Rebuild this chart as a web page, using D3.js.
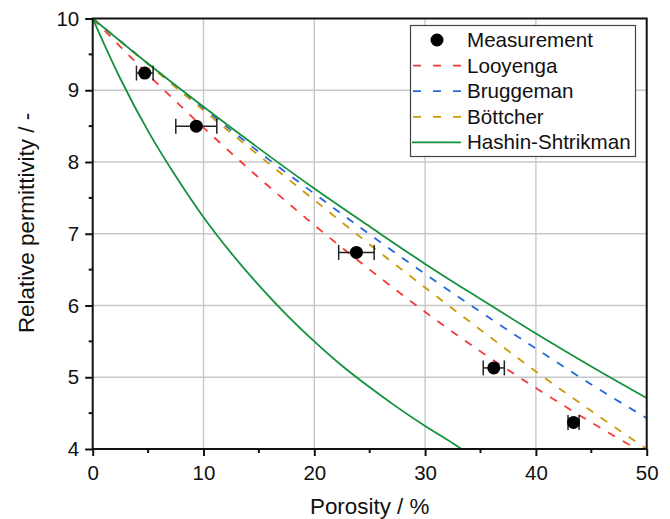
<!DOCTYPE html>
<html>
<head>
<meta charset="utf-8">
<script src="https://cdn.jsdelivr.net/npm/d3@7"></script>
<style>
  body { margin: 0; background: #fff; }
  text { font-family: "Liberation Sans", Arial, sans-serif; fill: #111; }
</style>
</head>
<body>
<div id="chart"></div>
<script>
// porosity grid (%) for the model curves
var porosity = [0, 5, 10, 15, 20, 25, 30, 35, 40, 45, 50]
var looyenga = [10, 9.22, 8.48, 7.78, 7.12, 6.50, 5.91, 5.36, 4.85, 4.37, 3.92]
var bruggeman = [10, 9.37, 8.75, 8.14, 7.56, 6.99, 6.44, 5.91, 5.40, 4.90, 4.43]
var boettcher = [10, 9.36, 8.72, 8.09, 7.47, 6.85, 6.25, 5.66, 5.08, 4.53, 4.00]
var hsUpper = [10, 9.37, 8.77, 8.19, 7.63, 7.10, 6.58, 6.09, 5.61, 5.15, 4.71]
// lower bound bends more, so it is read at finer steps
var hsLowerP = [0, 2.5, 5, 7.5, 10, 12.5, 15, 17.5, 20, 22.5, 25, 27.5, 30, 32.5, 33.3]
var hsLower = [10, 9.16, 8.43, 7.80, 7.23, 6.73, 6.28, 5.87, 5.50, 5.16, 4.86, 4.58, 4.32, 4.08, 4.0]

// measurements
var measP = [4.7, 9.35, 23.8, 36.2, 43.4]
var measE = [9.24, 8.50, 6.74, 5.13, 4.37]
var measErr = [0.75, 1.85, 1.6, 0.95, 0.5]

var xTicks = [0, 10, 20, 30, 40, 50]
var yTicks = [4, 5, 6, 7, 8, 9, 10]

var W = 670, H = 519
var pLeft = 92.7, pRight = 646.7, pTop = 18.5, pBottom = 449

var svg = d3.select('#chart').append('svg')
    .attr('width', W)
    .attr('height', H)

var x = d3.scaleLinear().domain([0, 50]).range([pLeft, pRight])
var y = d3.scaleLinear().domain([4, 10]).range([pBottom, pTop])

svg.append('defs').append('clipPath').attr('id', 'clip')
    .append('rect')
    .attr('x', pLeft).attr('y', pTop)
    .attr('width', pRight - pLeft).attr('height', pBottom - pTop)

// grid
var grid = svg.append('g')
grid.selectAll('.gx').data(xTicks.slice(1, -1)).enter().append('line')
    .attr('x1', d => x(d)).attr('x2', d => x(d))
    .attr('y1', pTop).attr('y2', pBottom)
    .attr('stroke', '#c8c8c8').attr('stroke-width', 1.4)
grid.selectAll('.gy').data(yTicks.slice(1, -1)).enter().append('line')
    .attr('y1', d => y(d)).attr('y2', d => y(d))
    .attr('x1', pLeft).attr('x2', pRight)
    .attr('stroke', '#c8c8c8').attr('stroke-width', 1.4)

var models = [
    { name: 'Looyenga', px: porosity, vals: looyenga, color: '#f8393a', dash: '8,9' },
    { name: 'Bruggeman', px: porosity, vals: bruggeman, color: '#2468dd', dash: '8,9' },
    { name: 'Böttcher', px: porosity, vals: boettcher, color: '#cc9905', dash: '8,9' },
    { name: 'Hashin-Shtrikman', px: porosity, vals: hsUpper, color: '#14913d', dash: null },
    { name: null, px: hsLowerP, vals: hsLower, color: '#14913d', dash: null }
]

var line = d3.line()
    .x(d => x(d[0]))
    .y(d => y(d[1]))
    .curve(d3.curveMonotoneX)

var curves = svg.append('g').attr('clip-path', 'url(#clip)')
models.forEach(function (m) {
    curves.append('path')
        .datum(d3.zip(m.px, m.vals))
        .attr('d', line)
        .attr('fill', 'none')
        .attr('stroke', m.color)
        .attr('stroke-width', 1.8)
        .attr('stroke-dasharray', m.dash)
})

// axes
var xAxis = d3.axisBottom(x).tickValues(xTicks).tickFormat(d3.format('d')).tickSize(7).tickPadding(9)
var yAxis = d3.axisLeft(y).tickValues(yTicks).tickFormat(d3.format('d')).tickSize(7.5).tickPadding(6)

var gx = svg.append('g').attr('transform', 'translate(0,' + pBottom + ')').call(xAxis)
var gy = svg.append('g').attr('transform', 'translate(' + pLeft + ',0)').call(yAxis)
;[gx, gy].forEach(function (g) {
    g.select('.domain').remove()
    g.selectAll('line').attr('stroke', '#111').attr('stroke-width', 2)
    g.selectAll('text').attr('font-size', 20.5).style('fill', '#111')
        .style('font-family', '"Liberation Sans", Arial, sans-serif')
})

// minor ticks
var minorX = d3.range(5, 50, 10)
var minorY = d3.range(4.5, 10, 1)
svg.append('g').selectAll('line').data(minorX).enter().append('line')
    .attr('x1', d => x(d)).attr('x2', d => x(d))
    .attr('y1', pBottom).attr('y2', pBottom + 4)
    .attr('stroke', '#111').attr('stroke-width', 2)
svg.append('g').selectAll('line').data(minorY).enter().append('line')
    .attr('y1', d => y(d)).attr('y2', d => y(d))
    .attr('x1', pLeft).attr('x2', pLeft - 4)
    .attr('stroke', '#111').attr('stroke-width', 2)

// frame
svg.append('rect')
    .attr('x', pLeft).attr('y', pTop)
    .attr('width', pRight - pLeft).attr('height', pBottom - pTop)
    .attr('fill', 'none').attr('stroke', '#111').attr('stroke-width', 2)

// measurements with error bars
var meas = d3.zip(measP, measE, measErr)
var mg = svg.append('g')
mg.selectAll('.eb').data(meas).enter().append('line')
    .attr('x1', d => x(d[0] - d[2])).attr('x2', d => x(d[0] + d[2]))
    .attr('y1', d => y(d[1])).attr('y2', d => y(d[1]))
    .attr('stroke', '#222').attr('stroke-width', 1.5)
mg.selectAll('.capl').data(meas).enter().append('line')
    .attr('x1', d => x(d[0] - d[2])).attr('x2', d => x(d[0] - d[2]))
    .attr('y1', d => y(d[1]) - 7.5).attr('y2', d => y(d[1]) + 7.5)
    .attr('stroke', '#222').attr('stroke-width', 1.5)
mg.selectAll('.capr').data(meas).enter().append('line')
    .attr('x1', d => x(d[0] + d[2])).attr('x2', d => x(d[0] + d[2]))
    .attr('y1', d => y(d[1]) - 7.5).attr('y2', d => y(d[1]) + 7.5)
    .attr('stroke', '#222').attr('stroke-width', 1.5)
mg.selectAll('circle').data(meas).enter().append('circle')
    .attr('cx', d => x(d[0])).attr('cy', d => y(d[1]))
    .attr('r', 6.5).attr('fill', '#000')

// axis titles
svg.append('text')
    .attr('x', (pLeft + pRight) / 2).attr('y', 514)
    .attr('text-anchor', 'middle')
    .attr('font-size', 22.4)
    .text('Porosity / %')
svg.append('text')
    .attr('transform', 'translate(34,223) rotate(-90)')
    .attr('text-anchor', 'middle')
    .attr('font-size', 22.4)
    .text('Relative permittivity / -')

// legend
var lg = svg.append('g')
lg.append('rect')
    .attr('x', 410.5).attr('y', 25.5)
    .attr('width', 225).attr('height', 131)
    .attr('fill', '#fff').attr('stroke', '#444').attr('stroke-width', 1.2)

var legendItems = [{ name: 'Measurement', marker: true }].concat(models.filter(m => m.name))
legendItems.forEach(function (m, i) {
    var cy = 40 + i * 25.6
    if (m.marker) {
        lg.append('circle').attr('cx', 437).attr('cy', cy).attr('r', 6.5).attr('fill', '#000')
    } else {
        lg.append('line')
            .attr('x1', 412).attr('x2', 461)
            .attr('y1', cy).attr('y2', cy)
            .attr('stroke', m.color).attr('stroke-width', 1.8)
            .attr('stroke-dasharray', m.dash ? '8,12' : null)
            .attr('stroke-dashoffset', m.dash ? -1 : null)
    }
    lg.append('text')
        .attr('x', 467).attr('y', cy + 7)
        .attr('font-size', 20.6)
        .text(m.name)
})
</script>
</body>
</html>
